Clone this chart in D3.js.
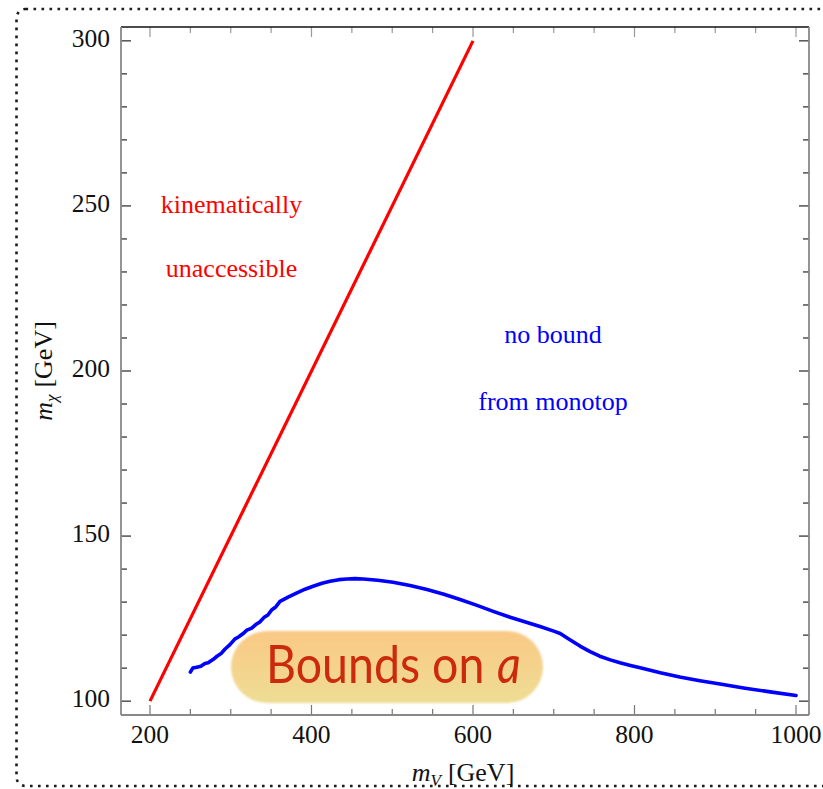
<!DOCTYPE html>
<html>
<head>
<meta charset="utf-8">
<script src="https://cdn.jsdelivr.net/npm/d3@7"></script>
<style>
  html, body { margin: 0; padding: 0; background: #fff; }
  svg { display: block; }
</style>
</head>
<body>
<svg id="chart" width="823" height="789"></svg>
<script>
// Kinematic threshold m_chi = m_V / 2
const thresholdMV = [200, 600];
const thresholdMChi = [100, 300];

// Monotop exclusion contour
const boundMV = [250, 253, 258, 263, 268, 272, 278, 283, 288, 293, 299, 305, 310, 315, 320, 326, 331, 336, 341, 346, 351, 356, 361, 371, 382, 392, 402, 413, 423, 434, 444, 454, 464, 482, 501, 522, 543, 564, 584, 605, 625, 646, 666, 683, 700, 708, 720, 733, 745, 757, 770, 782, 795, 807, 832, 856, 881, 906, 935, 968, 1000];
const boundMChi = [108.8, 110.0, 110.3, 110.6, 111.4, 111.6, 112.6, 113.6, 114.4, 115.8, 117.1, 118.8, 119.5, 120.4, 121.5, 122.1, 123.2, 124.0, 125.3, 126.1, 127.7, 128.6, 130.2, 131.5, 132.8, 133.9, 134.8, 135.7, 136.3, 136.8, 137.0, 137.1, 137.0, 136.6, 136.0, 135.0, 133.8, 132.4, 130.8, 129.0, 127.2, 125.4, 123.9, 122.6, 121.2, 120.5, 118.6, 116.6, 115.0, 113.6, 112.5, 111.6, 110.8, 110.1, 108.6, 107.3, 106.2, 105.2, 104.0, 102.8, 101.7];

// Axis ticks
const xMajorTicks = [200, 400, 600, 800, 1000];
const xMinorTicks = d3.range(200, 1001, 50);
const yMajorTicks = [100, 150, 200, 250, 300];
const yMinorTicks = d3.range(100, 301, 10);

const svg = d3.select("#chart");
const plot = { left: 121, right: 809, top: 27, bottom: 715 };

const x = d3.scaleLinear().domain([164.1, 1016.1]).range([plot.left, plot.right]);
const y = d3.scaleLinear().domain([95.8, 304.2]).range([plot.bottom, plot.top]);

// dotted rounded outline around the figure
svg.append("rect")
  .attr("x", 16.5).attr("y", 9).attr("width", 820).attr("height", 777)
  .attr("rx", 9).attr("ry", 9)
  .attr("fill", "none").attr("stroke", "#1a1a1a").attr("stroke-width", 2.6)
  .attr("stroke-dasharray", "2.6 5.4");

// tick marks on all four sides
const tickMajor = 10, tickMinor = 6;
const g = svg.append("g");
xMinorTicks.forEach(v => {
  const len = xMajorTicks.includes(v) ? tickMajor : tickMinor;
  g.append("line").attr("x1", x(v)).attr("x2", x(v))
    .attr("y1", plot.bottom).attr("y2", plot.bottom - len)
    .attr("stroke", "#777").attr("stroke-width", 1.2);
  g.append("line").attr("x1", x(v)).attr("x2", x(v))
    .attr("y1", plot.top).attr("y2", plot.top + len)
    .attr("stroke", "#999").attr("stroke-width", 1.2);
});
yMinorTicks.forEach(v => {
  const len = yMajorTicks.includes(v) ? tickMajor : tickMinor;
  g.append("line").attr("y1", y(v)).attr("y2", y(v))
    .attr("x1", plot.left).attr("x2", plot.left + len)
    .attr("stroke", "#111").attr("stroke-width", 1.1);
  g.append("line").attr("y1", y(v)).attr("y2", y(v))
    .attr("x1", plot.right).attr("x2", plot.right - len)
    .attr("stroke", "#111").attr("stroke-width", 1.1);
});

// frame
svg.append("line").attr("x1", plot.left).attr("x2", plot.right)
  .attr("y1", plot.top).attr("y2", plot.top).attr("stroke", "#111").attr("stroke-width", 1.3);
svg.append("line").attr("x1", plot.left).attr("x2", plot.right)
  .attr("y1", plot.bottom).attr("y2", plot.bottom).attr("stroke", "#888").attr("stroke-width", 1.8);
svg.append("line").attr("x1", plot.left).attr("x2", plot.left)
  .attr("y1", plot.top).attr("y2", plot.bottom).attr("stroke", "#888").attr("stroke-width", 1.8);
svg.append("line").attr("x1", plot.right).attr("x2", plot.right)
  .attr("y1", plot.top).attr("y2", plot.bottom).attr("stroke", "#888").attr("stroke-width", 1.8);

// tick labels
const serif = "'Liberation Serif', 'DejaVu Serif', serif";
svg.append("g").selectAll("text").data(xMajorTicks).join("text")
  .attr("x", d => x(d)).attr("y", 743)
  .attr("text-anchor", "middle")
  .attr("font-family", serif).attr("font-size", 25.5).attr("fill", "#111")
  .text(d => d);
svg.append("g").selectAll("text").data(yMajorTicks).join("text")
  .attr("x", 110).attr("y", d => y(d) + 6)
  .attr("text-anchor", "end")
  .attr("font-family", serif).attr("font-size", 25.5).attr("fill", "#111")
  .text(d => d);

// axis titles
const xt = svg.append("text").attr("x", 463).attr("y", 781)
  .attr("text-anchor", "middle").attr("font-family", serif).attr("font-size", 26).attr("fill", "#111");
xt.append("tspan").attr("font-style", "italic").text("m");
xt.append("tspan").attr("font-style", "italic").attr("font-size", 17).attr("dy", 5).text("V");
xt.append("tspan").attr("dy", -5).attr("dx", 7).text("[GeV]");

const yt = svg.append("text").attr("transform", "translate(52,371) rotate(-90)")
  .attr("text-anchor", "middle").attr("font-family", serif).attr("font-size", 26).attr("fill", "#111");
yt.append("tspan").attr("font-style", "italic").text("m");
yt.append("tspan").attr("font-style", "italic").attr("font-size", 17).attr("dy", 5).text("χ");
yt.append("tspan").attr("dy", -5).attr("dx", 7).text("[GeV]");

// threshold line
const line = d3.line().x(d => x(d[0])).y(d => y(d[1]));
svg.append("path")
  .datum(d3.zip(thresholdMV, thresholdMChi))
  .attr("d", line).attr("fill", "none")
  .attr("stroke", "#ff0000").attr("stroke-width", 3.2);

// monotop bound
svg.append("path")
  .datum(d3.zip(boundMV, boundMChi))
  .attr("d", line).attr("fill", "none")
  .attr("stroke", "#0000ff").attr("stroke-width", 3.6)
  .attr("stroke-linejoin", "round").attr("stroke-linecap", "round");

// region annotations
const notes = [
  { text: "kinematically", cx: 231.5, by: 213, color: "#ff0000" },
  { text: "unaccessible", cx: 231.5, by: 277, color: "#ff0000" },
  { text: "no bound", cx: 553, by: 343, color: "#0000ff" },
  { text: "from monotop", cx: 553, by: 410, color: "#0000ff" }
];
svg.append("g").selectAll("text").data(notes).join("text")
  .attr("x", d => d.cx).attr("y", d => d.by)
  .attr("text-anchor", "middle")
  .attr("font-family", serif).attr("font-size", 26)
  .attr("fill", d => d.color)
  .text(d => d.text);

// "Bounds on a" badge
const defs = svg.append("defs");
const grad = defs.append("linearGradient").attr("id", "badgeFill")
  .attr("x1", 0).attr("y1", 0).attr("x2", 0).attr("y2", 1);
grad.append("stop").attr("offset", "0%").attr("stop-color", "#f9c985");
grad.append("stop").attr("offset", "100%").attr("stop-color", "#efdd95");
defs.append("filter").attr("id", "soft")
  .append("feGaussianBlur").attr("stdDeviation", 0.8);

svg.append("rect")
  .attr("x", 231).attr("y", 631).attr("width", 312).attr("height", 72)
  .attr("rx", 36).attr("ry", 36)
  .attr("fill", "url(#badgeFill)").attr("filter", "url(#soft)");

const badgeFont = "Lato, 'Open Sans', sans-serif";
svg.append("text").attr("transform", "translate(266,683) scale(0.99,1.13)")
  .attr("font-family", badgeFont).attr("font-size", 47)
  .attr("fill", "#cc2a0c")
  .text("Bounds on");
svg.append("text").attr("transform", "translate(497,683) scale(0.99,1.13)")
  .attr("font-family", badgeFont).attr("font-size", 47)
  .attr("font-style", "italic")
  .attr("fill", "#cc2a0c")
  .text("a");
</script>
</body>
</html>
